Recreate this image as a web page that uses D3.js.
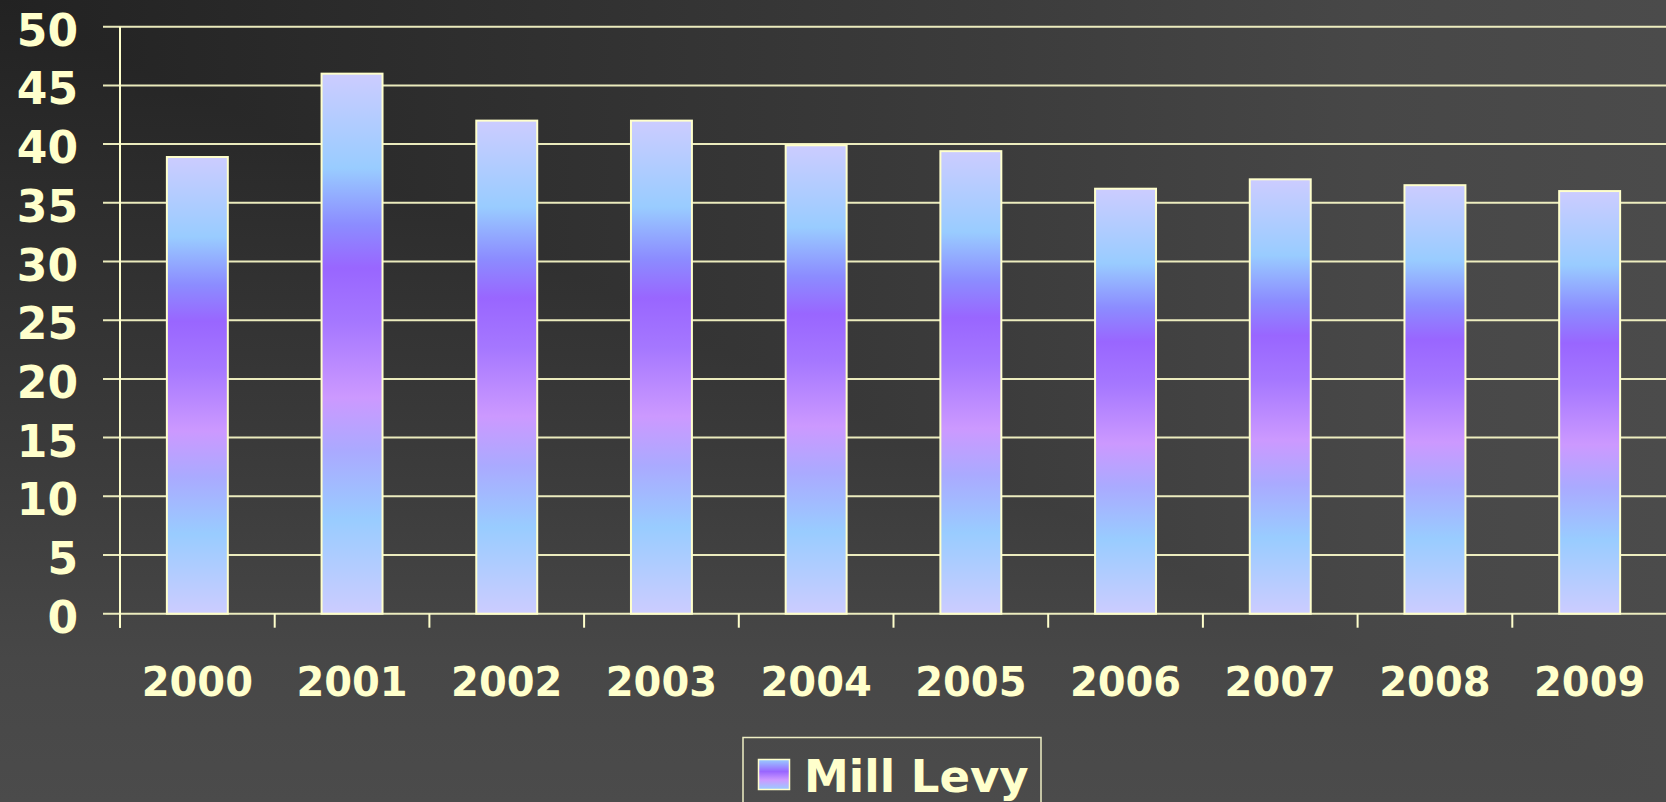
<!DOCTYPE html>
<html>
<head>
<meta charset="utf-8">
<script src="https://cdn.jsdelivr.net/npm/d3@7"></script>
<style>
  html, body { margin: 0; padding: 0; background: #333; overflow: hidden; }
  svg { display: block; }
  text { font-family: "DejaVu Sans", Verdana, sans-serif; font-weight: bold; fill: #FFFFCC; }
</style>
</head>
<body>
<script>
// Mill levy by year
const years = ["2000", "2001", "2002", "2003", "2004", "2005", "2006", "2007", "2008", "2009"];
const millLevy = [38.9, 46.0, 42.0, 42.0, 39.9, 39.4, 36.2, 37.0, 36.5, 36.0];
const yTicks = [0, 5, 10, 15, 20, 25, 30, 35, 40, 45, 50];
const seriesName = "Mill Levy";

const W = 1666, H = 802;
const ink = "#FFFFCC";

const svg = d3.select("body").append("svg")
  .attr("width", W).attr("height", H);

const defs = svg.append("defs");

// Background: dark in the top-left corner, lightening towards the right and bottom edges.
const bgStops = [
  [0, "#222222"], [0.3, "#2f2f2f"], [0.6, "#3c3c3c"], [0.82, "#474747"], [1, "#4b4b4b"]
];
function linGrad(id, x2, y2, stops) {
  const g = defs.append("linearGradient").attr("id", id)
    .attr("gradientUnits", "userSpaceOnUse")
    .attr("x1", 0).attr("y1", 0).attr("x2", x2).attr("y2", y2);
  stops.forEach(([o, c]) => g.append("stop").attr("offset", o).attr("stop-color", c));
}
linGrad("bgH", W, 0, bgStops);
linGrad("bgV", 0, H, bgStops);
// vertical ramp everywhere, horizontal ramp over the upper-right triangle
svg.append("rect").attr("width", W).attr("height", H).attr("fill", "url(#bgV)");
svg.append("polygon").attr("points", `0,0 ${W},0 ${W},${H}`).attr("fill", "url(#bgH)");

// Bar fill: banded pastel gradient running the height of each bar
const barGrad = defs.append("linearGradient").attr("id", "barFill")
  .attr("x1", 0).attr("y1", 0).attr("x2", 0).attr("y2", 1);
[[0, "#CCCCFF"], [0.175, "#99CCFF"], [0.28, "#8C8CFF"], [0.36, "#9966FF"], [0.46, "#A577FF"],
 [0.6, "#CC99FF"], [0.7, "#AAAAFF"], [0.825, "#99CCFF"], [1, "#CCCCFF"]]
  .forEach(([o, c]) => barGrad.append("stop").attr("offset", o).attr("stop-color", c));

const swatchGrad = defs.append("linearGradient").attr("id", "swatchFill")
  .attr("x1", 0).attr("y1", 0).attr("x2", 0).attr("y2", 1);
[[0, "#99CCFF"], [0.4, "#9966FF"], [0.68, "#CC99FF"], [1, "#99CCFF"]]
  .forEach(([o, c]) => swatchGrad.append("stop").attr("offset", o).attr("stop-color", c));

// Plot area
const plotLeft = 120, plotRight = 1667, plotTop = 26.7, plotBottom = 613.7;

const x = d3.scaleBand().domain(years).range([plotLeft, plotRight])
  .paddingInner(0.606).paddingOuter(0.303);
const y = d3.scaleLinear().domain([0, 50]).range([plotBottom, plotTop]);

// Horizontal gridlines with short tick stubs to the left of the axis
svg.append("g").selectAll("line").data(yTicks).join("line")
  .attr("x1", 103).attr("x2", W + 5)
  .attr("y1", d => y(d)).attr("y2", d => y(d))
  .attr("stroke", ink).attr("stroke-opacity", 0.9).attr("stroke-width", 2);

// Y axis line
svg.append("line")
  .attr("x1", plotLeft).attr("x2", plotLeft)
  .attr("y1", y(50)).attr("y2", plotBottom + 14)
  .attr("stroke", ink).attr("stroke-width", 2);

// Category boundary ticks below the baseline
const step = x.step();
svg.append("g").selectAll("line").data(d3.range(years.length + 1)).join("line")
  .attr("x1", i => plotLeft + i * step).attr("x2", i => plotLeft + i * step)
  .attr("y1", plotBottom).attr("y2", plotBottom + 14)
  .attr("stroke", ink).attr("stroke-width", 2);

// Bars
svg.append("g").selectAll("rect").data(years).join("rect")
  .attr("x", d => x(d))
  .attr("width", x.bandwidth())
  .attr("y", (d, i) => y(millLevy[i]))
  .attr("height", (d, i) => y(0) - y(millLevy[i]))
  .attr("fill", "url(#barFill)")
  .attr("stroke", ink).attr("stroke-width", 2);

// Y tick labels
svg.append("g").selectAll("text").data(yTicks).join("text")
  .attr("x", 78).attr("y", d => y(d) + 19)
  .attr("text-anchor", "end")
  .style("font-size", "44px")
  .text(d => d);

// X tick labels
svg.append("g").selectAll("text").data(years).join("text")
  .attr("x", d => x(d) + x.bandwidth() / 2).attr("y", 696)
  .attr("text-anchor", "middle")
  .style("font-size", "40px")
  .text(d => d);

// Legend
const legend = svg.append("g");
legend.append("rect")
  .attr("x", 743).attr("y", 737.5).attr("width", 298).attr("height", 100)
  .attr("fill", "none").attr("stroke", "#EEEEC4").attr("stroke-width", 1.5);
legend.append("rect")
  .attr("x", 758.5).attr("y", 759.5).attr("width", 31).attr("height", 30)
  .attr("fill", "url(#swatchFill)").attr("stroke", ink).attr("stroke-width", 1.5);
legend.append("text")
  .attr("x", 804).attr("y", 791.5)
  .style("font-size", "45px")
  .text(seriesName);
</script>
</body>
</html>
